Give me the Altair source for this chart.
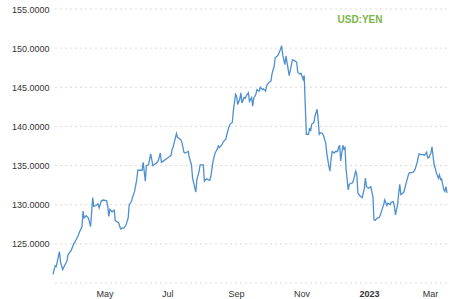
import altair as alt
import pandas as pd

dates = [
    "2022-03-22", "2022-03-24", "2022-03-25", "2022-03-28", "2022-03-29", "2022-03-31",
    "2022-04-02", "2022-04-04", "2022-04-05", "2022-04-08", "2022-04-10", "2022-04-12",
    "2022-04-14", "2022-04-16", "2022-04-18", "2022-04-19", "2022-04-20", "2022-04-22",
    "2022-04-24", "2022-04-26", "2022-04-28", "2022-04-29",
    "2022-05-01", "2022-05-03", "2022-05-04", "2022-05-06", "2022-05-08", "2022-05-11",
    "2022-05-12", "2022-05-13", "2022-05-14", "2022-05-16", "2022-05-18", "2022-05-19",
    "2022-05-20", "2022-05-22", "2022-05-24", "2022-05-25", "2022-05-27", "2022-05-29",
    "2022-05-31",
    "2022-06-01", "2022-06-03", "2022-06-04", "2022-06-06", "2022-06-08", "2022-06-09",
    "2022-06-11", "2022-06-13", "2022-06-14", "2022-06-16", "2022-06-17", "2022-06-19",
    "2022-06-21", "2022-06-23", "2022-06-26", "2022-06-28", "2022-06-30",
    "2022-07-01", "2022-07-03", "2022-07-06", "2022-07-08", "2022-07-10", "2022-07-11",
    "2022-07-12", "2022-07-13", "2022-07-15", "2022-07-16", "2022-07-19", "2022-07-20",
    "2022-07-22", "2022-07-23", "2022-07-26", "2022-07-27", "2022-07-29", "2022-07-30",
    "2022-08-02", "2022-08-03", "2022-08-05", "2022-08-06", "2022-08-09", "2022-08-10",
    "2022-08-12", "2022-08-15", "2022-08-16", "2022-08-18", "2022-08-20", "2022-08-22",
    "2022-08-23", "2022-08-24", "2022-08-26", "2022-08-28", "2022-08-30", "2022-08-31",
    "2022-09-02", "2022-09-03", "2022-09-05", "2022-09-06", "2022-09-08", "2022-09-09",
    "2022-09-10", "2022-09-12", "2022-09-13", "2022-09-14", "2022-09-16", "2022-09-17",
    "2022-09-18", "2022-09-20", "2022-09-21", "2022-09-23", "2022-09-24", "2022-09-25",
    "2022-09-27", "2022-09-28", "2022-09-30",
    "2022-10-01", "2022-10-03", "2022-10-04", "2022-10-06", "2022-10-07", "2022-10-09",
    "2022-10-11", "2022-10-12", "2022-10-14", "2022-10-15", "2022-10-17", "2022-10-18",
    "2022-10-20", "2022-10-21", "2022-10-22", "2022-10-24", "2022-10-25", "2022-10-28",
    "2022-10-30", "2022-10-31",
    "2022-11-02", "2022-11-04", "2022-11-05", "2022-11-07", "2022-11-08", "2022-11-10",
    "2022-11-11", "2022-11-12", "2022-11-13", "2022-11-15", "2022-11-16", "2022-11-17",
    "2022-11-18", "2022-11-20", "2022-11-21", "2022-11-23", "2022-11-24", "2022-11-25",
    "2022-11-26", "2022-11-28", "2022-11-29",
    "2022-12-01", "2022-12-02", "2022-12-04", "2022-12-05", "2022-12-06", "2022-12-07",
    "2022-12-09", "2022-12-10", "2022-12-12", "2022-12-13", "2022-12-14", "2022-12-15",
    "2022-12-17", "2022-12-18", "2022-12-19", "2022-12-20", "2022-12-22", "2022-12-23",
    "2022-12-24", "2022-12-26", "2022-12-27", "2022-12-29", "2022-12-30", "2022-12-31",
    "2023-01-02", "2023-01-04", "2023-01-06", "2023-01-07", "2023-01-08", "2023-01-10",
    "2023-01-12", "2023-01-14", "2023-01-15", "2023-01-16", "2023-01-18", "2023-01-20",
    "2023-01-21", "2023-01-23", "2023-01-24", "2023-01-25", "2023-01-27", "2023-01-28",
    "2023-01-30", "2023-01-31",
    "2023-02-02", "2023-02-03", "2023-02-04", "2023-02-06", "2023-02-07", "2023-02-08",
    "2023-02-09", "2023-02-11", "2023-02-12", "2023-02-14", "2023-02-16", "2023-02-17",
    "2023-02-20", "2023-02-22", "2023-02-24", "2023-02-26", "2023-02-28",
    "2023-03-02", "2023-03-03", "2023-03-05", "2023-03-06", "2023-03-07", "2023-03-09",
    "2023-03-10", "2023-03-12", "2023-03-13", "2023-03-14", "2023-03-16", "2023-03-17",
    "2023-03-18", "2023-03-19", "2023-03-21", "2023-03-22", "2023-03-23", "2023-03-24",
]

rates = [
    121.1, 122.2, 122.1, 124.0, 122.7, 121.7,
    122.3, 122.8, 123.6, 124.2, 124.9, 125.4,
    125.9, 126.6, 127.2, 129.2, 128.3, 128.6,
    128.3, 127.2, 130.9, 129.8,
    129.9, 130.1, 129.6, 130.5, 130.6, 130.5,
    129.8, 128.5, 129.4, 129.1, 129.3, 128.0,
    127.9, 127.7, 126.9, 127.0, 127.0, 127.4,
    128.3,
    130.0, 130.4, 130.9, 131.7, 133.2, 134.4,
    134.4, 134.4, 135.4, 133.0, 135.0, 135.1,
    136.5, 135.0, 135.3, 135.6, 136.6,
    135.4, 135.6, 135.9, 136.1, 136.3, 137.1,
    137.4, 138.0, 139.1, 138.6, 138.3, 138.0,
    136.7, 136.6, 136.8, 136.0, 135.1, 133.4,
    131.6, 133.2, 134.2, 135.1, 135.1, 133.0,
    133.3, 133.1, 133.6, 135.5, 136.6, 137.1,
    137.5, 137.3, 137.6, 138.1, 138.4, 139.0,
    140.0, 140.3, 140.5, 142.0, 144.1, 143.9,
    142.8, 143.5, 144.3, 143.0, 143.7, 143.6,
    143.9, 144.3, 143.2, 143.7, 142.6, 143.6,
    144.1, 144.7, 144.5,
    145.0, 144.7, 144.8, 144.5, 145.2, 145.6,
    145.8, 146.7, 147.7, 148.8, 149.0, 149.2,
    149.9, 150.3, 149.1, 147.9, 149.0, 146.5,
    147.8, 148.5,
    148.4, 148.2, 146.9, 146.7, 146.8, 146.0,
    146.5, 142.6, 139.0, 139.0, 139.8, 139.4,
    140.3, 140.5, 141.3, 142.2, 140.9, 139.0,
    139.2, 139.1, 138.8,
    137.9, 136.6, 134.9, 134.3, 135.8, 136.8,
    136.6, 136.8, 136.8, 137.3, 137.6, 135.6,
    137.6, 137.1, 137.3, 134.5, 131.9, 132.6,
    132.7, 132.8, 133.2, 134.3, 133.8, 131.5,
    131.1, 130.9, 132.1, 133.4, 132.3, 132.1,
    132.3, 131.0, 128.1, 128.0, 128.3, 128.4,
    128.7, 129.6, 130.0, 130.6, 129.9, 130.2,
    130.0, 130.3,
    130.4, 129.8, 128.7, 130.0, 131.5, 132.6,
    131.3, 131.5, 131.7, 132.8, 133.8, 134.1,
    134.1, 134.4, 135.3, 136.5, 136.4,
    136.4, 136.3, 136.7, 136.0, 136.0, 136.6,
    137.4, 135.1, 134.7, 134.1, 133.4, 133.8,
    133.2, 133.3, 131.9, 131.7, 132.3, 131.5,
]

y_ticks = [120, 125, 130, 135, 140, 145, 150, 155]
title_text = "USD:YEN"

df = pd.DataFrame({"date": dates, "rate": rates})
grid_df = pd.DataFrame({"rate": y_ticks})

FONT = "Liberation Sans"

x_ticks = [
    alt.DateTime(year=2022, month=5, date=1, utc=True),
    alt.DateTime(year=2022, month=7, date=1, utc=True),
    alt.DateTime(year=2022, month=9, date=1, utc=True),
    alt.DateTime(year=2022, month=11, date=1, utc=True),
    alt.DateTime(year=2023, month=1, date=1, utc=True),
    alt.DateTime(year=2023, month=3, date=1, utc=True),
]

y_scale = alt.Scale(domain=[120, 155], nice=False, zero=False)

y_axis = alt.Axis(
    title=None,
    values=y_ticks,
    labelExpr="datum.value == 120 ? '' : format(datum.value, '.4f')",
    labelFont=FONT,
    labelFontSize=9,
    labelColor="#333333",
    labelPadding=4,
    labelOverlap=False,
    labelBound=False,
    ticks=False,
    domain=False,
    domainColor="transparent",
    domainOpacity=0,
    grid=False,
)

grid = alt.Chart(grid_df).mark_rule(
    color="#dcdcdc", strokeDash=[2, 3], strokeWidth=1
).encode(
    y=alt.Y("rate:Q", scale=y_scale, axis=y_axis),
)

line = alt.Chart(df).mark_line(color="#4f8fd0", strokeWidth=1.3).encode(
    x=alt.X(
        "date:T",
        scale=alt.Scale(
            type="utc",
            domain=[
                alt.DateTime(year=2022, month=3, date=22, utc=True),
                alt.DateTime(year=2023, month=3, date=24, utc=True),
            ],
        ),
        axis=alt.Axis(
            title=None,
            values=x_ticks,
            labelExpr="utcmonth(datum.value) == 0 ? utcFormat(datum.value, '%Y') : utcFormat(datum.value, '%b')",
            labelAlign="left",
            labelBaseline="top",
            labelPadding=6,
            labelFont=FONT,
            labelFontSize=9,
            labelColor="#333333",
            labelOverlap=False,
            labelFontWeight={"condition": {"test": "utcmonth(datum.value) == 0", "value": "bold"}, "value": "normal"},
            ticks=False,
            domain=False,
            domainColor="transparent",
            domainOpacity=0,
            grid=False,
        ),
    ),
    y=alt.Y("rate:Q", scale=y_scale, axis=y_axis),
)

label = alt.Chart(pd.DataFrame({"t": [title_text]})).mark_text(
    color="#7ab648", font="Liberation Sans", fontWeight="bold", fontSize=10,
    align="center", baseline="middle",
).encode(
    text="t:N",
    x=alt.value(307),
    y=alt.value(11),
)

chart = alt.layer(grid, line, label).properties(
    width=394,
    height=274,
    padding={"left": 53, "top": 9, "right": 27, "bottom": 16},
    autosize="none",
).configure(
    background="white",
    view=alt.ViewConfig(stroke="transparent", strokeWidth=0),
).configure_axis(
    domain=False, domainColor="transparent", domainOpacity=0,
    ticks=False, grid=False, labelOverlap=False,
)

chart.save("out.html", embed_options={"renderer": "svg", "actions": False})
